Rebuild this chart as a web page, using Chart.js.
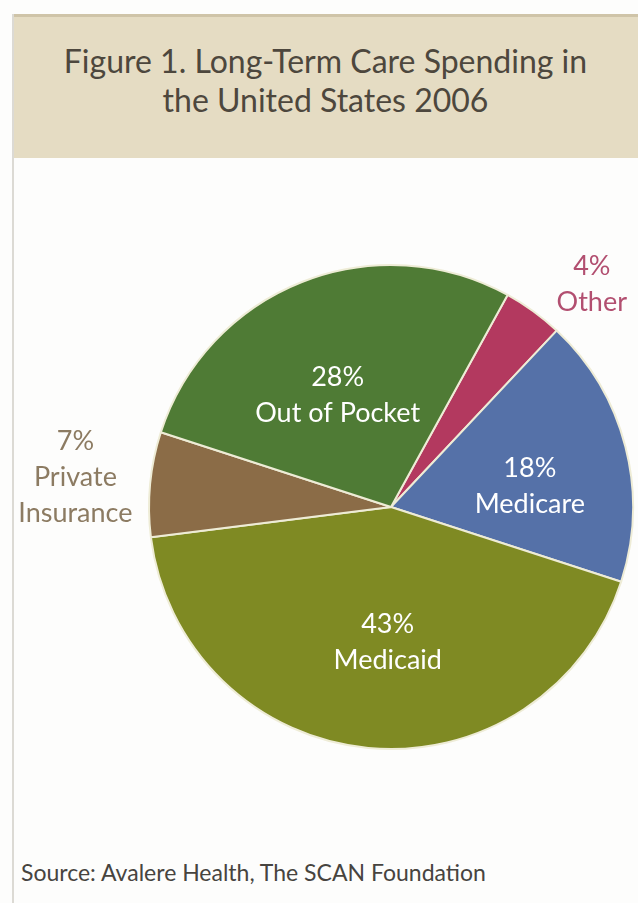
<!DOCTYPE html>
<html>
<head>
<meta charset="utf-8">
<script src="https://cdn.jsdelivr.net/npm/chart.js@4.4.0/dist/chart.umd.min.js"></script>
<style>
  html, body { margin: 0; padding: 0; background: #fdfdfc; }
  #page { position: relative; width: 638px; height: 903px; overflow: hidden; font-family: Lato, sans-serif; }
  #frame { position: absolute; left: 12px; top: 14px; width: 2px; height: 889px; background: #dcdad4; }
  #header { position: absolute; left: 13px; top: 14px; width: 625px; height: 144px; background: #e5dcc3; border-top: 3px solid #cfc4a8; box-sizing: border-box; }
  #title { position: absolute; left: 13px; width: 625px; top: 41px; text-align: center; font-size: 32px; line-height: 39px; color: #4d473d; }
  #source { position: absolute; left: 21px; top: 858px; font-size: 23px; color: #47443f; }
  #chartBox { position: absolute; left: 0; top: 0; width: 638px; height: 903px; }
</style>
</head>
<body>
<div id="page">
  <div id="header"></div>
  <div id="frame"></div>
  <div id="title">Figure 1. Long-Term Care Spending in<br>the United States 2006</div>
  <div id="source">Source: Avalere Health, The SCAN Foundation</div>
  <div id="chartBox"><canvas id="pie"></canvas></div>
</div>
<script>
// -------------------------
// Data
// -------------------------
const categories = ["Other", "Medicare", "Medicaid", "Private Insurance", "Out of Pocket"];
const labelLines = [["Other"], ["Medicare"], ["Medicaid"], ["Private", "Insurance"], ["Out of Pocket"]];
const shares = [4, 18, 43, 7, 28];

const sliceColors = ["#b3395f", "#5571a8", "#7f8a23", "#8b6c47", "#4f7b35"];
const labelColors = ["#b24f70", "#ffffff", "#ffffff", "#8c7b62", "#ffffff"];
// label placement, as a fraction of the radius and an angle nudge (deg)
const labelRadius = [1.24, 0.58, 0.56, 1.31, 0.51];
const labelNudge = [6, 6, -4, 0, -4];

// -------------------------
// Label plugin
// -------------------------
const sliceLabels = {
  id: "sliceLabels",
  afterDatasetsDraw(chart) {
    const ctx = chart.ctx;
    const arcs = chart.getDatasetMeta(0).data;
    ctx.save();
    ctx.textAlign = "center";
    ctx.textBaseline = "middle";
    ctx.font = "27px Lato, sans-serif";
    arcs.forEach((arc, i) => {
      const mid = (arc.startAngle + arc.endAngle) / 2 + labelNudge[i] * Math.PI / 180;
      const r = arc.outerRadius * labelRadius[i];
      const x = arc.x + Math.cos(mid) * r;
      const y = arc.y + Math.sin(mid) * r;
      const lines = [shares[i] + "%", ...labelLines[i]];
      const lh = 36;
      const top = y - (lines.length - 1) * lh / 2;
      ctx.fillStyle = labelColors[i];
      lines.forEach((t, j) => ctx.fillText(t, x, top + j * lh));
    });
    ctx.restore();
  }
};

new Chart(document.getElementById("pie"), {
  type: "pie",
  data: {
    labels: categories,
    datasets: [{
      data: shares,
      backgroundColor: sliceColors,
      borderColor: "#eeecd6",
      borderWidth: 2
    }]
  },
  options: {
    responsive: true,
    maintainAspectRatio: false,
    animation: false,
    rotation: 28.8,
    layout: { padding: { left: 148, right: 4, top: 264, bottom: 153 } },
    plugins: { legend: { display: false }, tooltip: { enabled: false } }
  },
  plugins: [sliceLabels]
});
</script>
</body>
</html>
